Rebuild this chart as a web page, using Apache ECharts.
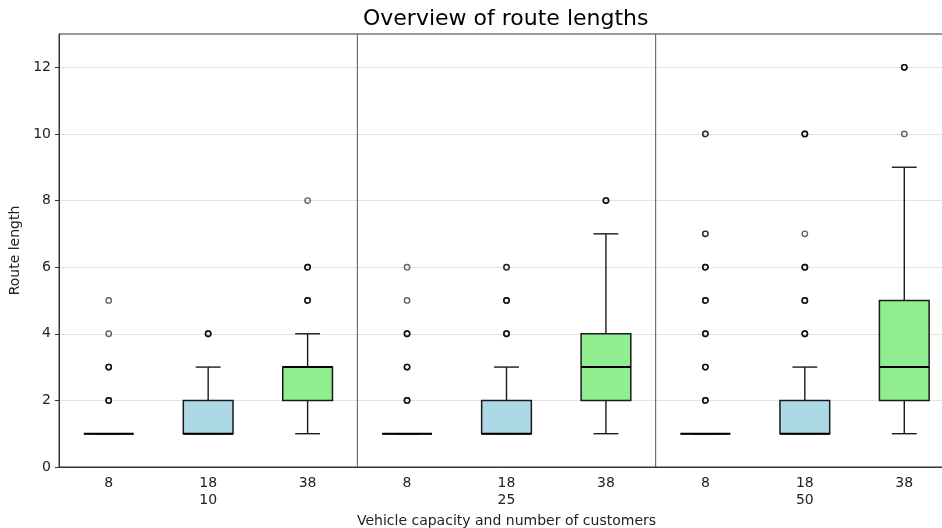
<!DOCTYPE html>
<html>
<head>
<meta charset="utf-8">
<script src="https://cdn.jsdelivr.net/npm/echarts@6/dist/echarts.min.js"></script>
<style>
  html, body { margin: 0; padding: 0; background: #fff; }
  #chart { width: 942px; height: 528px; }
</style>
</head>
<body>
<div id="chart"></div>
<script>
// Route-length distributions by number of customers and vehicle capacity
const customers = ['10', '25', '50'];
const capacities = ['8', '18', '38'];

// [lower whisker, Q1, median, Q3, upper whisker] per capacity
const stats10 = [[1, 1, 1, 1, 1], [1, 1, 1, 2, 3], [1, 2, 3, 3, 4]];
const stats25 = [[1, 1, 1, 1, 1], [1, 1, 1, 2, 3], [1, 2, 3, 4, 7]];
const stats50 = [[1, 1, 1, 1, 1], [1, 1, 1, 2, 3], [1, 2, 3, 5, 9]];

// outlying route lengths (repeated values = several routes of that length)
const fliers10 = [[2, 2, 2, 3, 3, 3, 4, 5], [4, 4, 4], [5, 5, 5, 6, 6, 6, 8]];
const fliers25 = [[2, 2, 2, 3, 3, 3, 4, 4, 4, 5, 6], [4, 4, 4, 5, 5, 5, 6, 6], [8, 8, 8]];
const fliers50 = [[2, 2, 2, 3, 3, 3, 4, 4, 4, 5, 5, 5, 6, 6, 6, 7, 7, 10, 10],
                  [4, 4, 4, 5, 5, 5, 6, 6, 6, 7, 10, 10, 10], [10, 12, 12, 12]];

const yTicks = [0, 2, 4, 6, 8, 10, 12];

const boxFill = ['#ffffff', '#add8e6', '#90ee90'];
const FONT = 'DejaVu Sans';

const allStats = [stats10, stats25, stats50];
const allFliers = [fliers10, fliers25, fliers50];

const categories = [];
const boxes = [];
customers.forEach((c, g) => {
  capacities.forEach((cap, k) => {
    categories.push(k === 1 ? cap + '\n' + c : cap);
    boxes.push({ value: [g * 3 + k].concat(allStats[g][k]), fliers: allFliers[g][k], kind: k });
  });
});

const chart = echarts.init(document.getElementById('chart'), null, { renderer: 'canvas' });

function renderBox(params, api) {
  const item = boxes[params.dataIndex];
  const i = item.value[0];
  const [lo, q1, med, q3, hi] = item.value.slice(1);
  const cx = api.coord([i, 0])[0];
  const w = api.size([1, 0])[0] * 0.5;
  const cap = w / 2;
  const y = v => api.coord([i, v])[1];
  const ln = '#1a1a1a';
  const children = [];
  // whiskers
  children.push({ type: 'line', shape: { x1: cx, y1: y(q1), x2: cx, y2: y(lo) }, style: { stroke: ln, lineWidth: 1.4 } });
  children.push({ type: 'line', shape: { x1: cx, y1: y(q3), x2: cx, y2: y(hi) }, style: { stroke: ln, lineWidth: 1.4 } });
  children.push({ type: 'line', shape: { x1: cx - cap / 2, y1: y(lo), x2: cx + cap / 2, y2: y(lo) }, style: { stroke: ln, lineWidth: 1.4 } });
  children.push({ type: 'line', shape: { x1: cx - cap / 2, y1: y(hi), x2: cx + cap / 2, y2: y(hi) }, style: { stroke: ln, lineWidth: 1.4 } });
  // box
  children.push({ type: 'rect', shape: { x: cx - w / 2, y: y(q3), width: w, height: y(q1) - y(q3) },
    style: { fill: boxFill[item.kind], stroke: ln, lineWidth: 1.5 } });
  // median
  children.push({ type: 'line', shape: { x1: cx - w / 2, y1: y(med), x2: cx + w / 2, y2: y(med) }, style: { stroke: '#000', lineWidth: 2 } });
  // outliers
  item.fliers.forEach(v => {
    children.push({ type: 'circle', shape: { cx: cx, cy: y(v), r: 2.7 },
      style: { fill: 'none', stroke: '#000', lineWidth: 1.4, opacity: 0.6 } });
  });
  return { type: 'group', children: children };
}

function renderSeparator(params, api) {
  const i = api.value(0);
  const x = (api.coord([i, 0])[0] + api.coord([i + 1, 0])[0]) / 2;
  const cs = params.coordSys;
  return { type: 'line', shape: { x1: x, y1: cs.y, x2: x, y2: cs.y + cs.height },
    style: { stroke: '#555', lineWidth: 1 } };
}

chart.setOption({
  animation: false,
  backgroundColor: '#fff',
  textStyle: { fontFamily: FONT },
  title: {
    text: 'Overview of route lengths',
    left: 358, top: 3,
    textStyle: { fontFamily: FONT, fontSize: 22, fontWeight: 'normal', color: '#000' }
  },
  grid: { left: 59, right: -12, top: 34, bottom: 61, outerBoundsMode: 'none', containLabel: false,
    show: true, borderColor: '#333', borderWidth: 1, backgroundColor: 'transparent' },
  xAxis: {
    type: 'category',
    data: categories,
    boundaryGap: true,
    name: 'Vehicle capacity and number of customers',
    nameLocation: 'middle',
    nameGap: 43,
    nameTextStyle: { fontFamily: FONT, fontSize: 14, color: '#222' },
    axisLine: { lineStyle: { color: '#333', width: 1 } },
    axisTick: { alignWithLabel: true, length: 4, lineStyle: { color: '#333' } },
    axisLabel: { fontFamily: FONT, fontSize: 14, color: '#222', margin: 8, lineHeight: 17 },
    splitLine: { show: false }
  },
  yAxis: {
    type: 'value',
    min: 0, max: 13, interval: 2,
    name: 'Route length',
    nameLocation: 'middle',
    nameGap: 33,
    nameTextStyle: { fontFamily: FONT, fontSize: 14, color: '#222' },
    axisLine: { show: true, lineStyle: { color: '#333', width: 1 } },
    axisTick: { show: true, length: 4, lineStyle: { color: '#333' }, customValues: yTicks },
    axisLabel: { fontFamily: FONT, fontSize: 14, color: '#222', margin: 8, customValues: yTicks },
    splitLine: { show: true, lineStyle: { color: '#e3e3e3', width: 1 } }
  },
  series: [
    {
      type: 'custom',
      renderItem: renderSeparator,
      data: [[2], [5]],
      encode: { x: 0 },
      silent: true,
      z: 1
    },
    {
      type: 'custom',
      renderItem: renderBox,
      data: boxes.map(b => b.value),
      encode: { x: 0, y: [1, 5] },
      silent: true,
      z: 2
    }
  ]
});
</script>
</body>
</html>
